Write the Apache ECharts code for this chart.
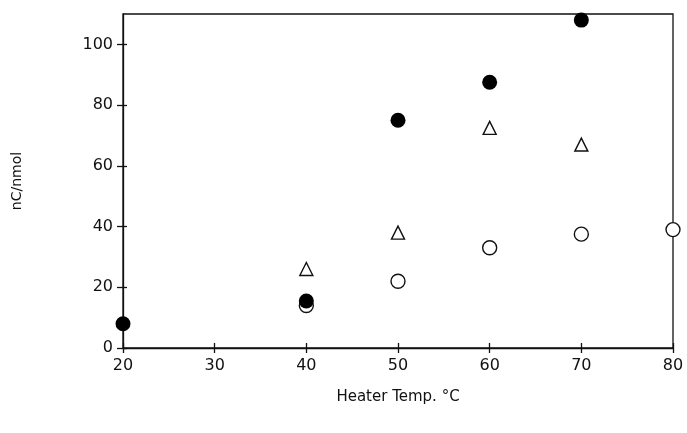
<!DOCTYPE html>
<html><head><meta charset="utf-8">
<script src="https://cdn.jsdelivr.net/npm/echarts@6/dist/echarts.min.js"></script>
<style>html,body{margin:0;padding:0;background:#fff}#c{width:687px;height:433px}</style>
</head><body><div id="c"></div>
<script>
const filledX = [20, 40, 50, 60, 70];
const filledY = [8, 15.5, 75, 87.5, 108];
const triX = [40, 50, 60, 70];
const triY = [26, 38, 72.5, 67];
const openX = [40, 50, 60, 70, 80];
const openY = [14, 22, 33, 37.5, 39];
const xTicks = [20, 30, 40, 50, 60, 70, 80];
const yTicks = [0, 20, 40, 60, 80, 100];

const pair = (xs, ys) => xs.map((x, i) => [x, ys[i]]);
const font = 'DejaVu Sans';
const chart = echarts.init(document.getElementById('c'));
const lineStyle = {color: '#111', width: 1.3};
chart.setOption({
  animation: false,
  backgroundColor: '#fff',
  grid: {left: 123, right: 14, top: 14, bottom: 85, show: true, borderColor: '#111', borderWidth: 1.3},
  xAxis: [{
    type: 'value', min: 20, max: 80, interval: 10,
    name: 'Heater Temp. °C', nameLocation: 'middle', nameGap: 42,
    nameTextStyle: {fontFamily: font, fontSize: 15, color: '#111'},
    axisLine: {show: true, lineStyle}, axisTick: {show: true, length: 5, lineStyle, customValues: xTicks},
    axisLabel: {fontFamily: font, fontSize: 16, color: '#111', margin: 10, customValues: xTicks},
    splitLine: {show: false}
  }, {
    type: 'value', min: 20, max: 80, interval: 10, position: 'bottom',
    axisLine: {show: false}, axisTick: {show: true, inside: true, length: 5, lineStyle, customValues: xTicks},
    axisLabel: {show: false}, splitLine: {show: false}
  }],
  yAxis: [{
    type: 'value', min: 0, max: 110, interval: 20,
    name: 'nC/nmol', nameLocation: 'middle', nameGap: 99, nameRotate: 90,
    nameTextStyle: {fontFamily: font, fontSize: 14, color: '#111'},
    axisLine: {show: true, lineStyle}, axisTick: {show: true, length: 6, lineStyle, customValues: yTicks},
    axisLabel: {fontFamily: font, fontSize: 16, color: '#111', margin: 10, customValues: yTicks},
    splitLine: {show: false}
  }, {
    type: 'value', min: 0, max: 110, interval: 20, position: 'left',
    axisLine: {show: false}, axisTick: {show: true, inside: true, length: 4, lineStyle, customValues: yTicks},
    axisLabel: {show: false}, splitLine: {show: false}
  }],
  series: [{
    type: 'scatter', data: pair(openX, openY), symbol: 'circle', symbolSize: 14,
    itemStyle: {color: '#fff', borderColor: '#111', borderWidth: 1.4, opacity: 1}, z: 3
  }, {
    type: 'scatter', data: pair(triX, triY), symbol: 'triangle', symbolSize: 13,
    itemStyle: {color: '#fff', borderColor: '#111', borderWidth: 1.4, opacity: 1}, z: 3
  }, {
    type: 'scatter', data: pair(filledX, filledY), symbol: 'circle', symbolSize: 15,
    itemStyle: {color: '#000', borderWidth: 0, opacity: 1}, z: 4
  }]
});
</script></body></html>
